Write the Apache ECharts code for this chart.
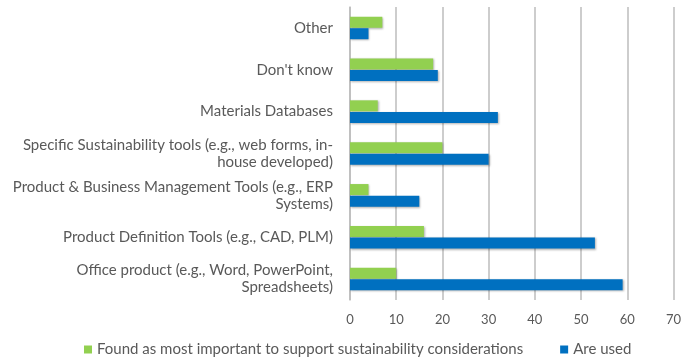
<!DOCTYPE html>
<html><head><meta charset="utf-8">
<script src="https://cdn.jsdelivr.net/npm/echarts@6/dist/echarts.min.js"></script>
<style>html,body{margin:0;padding:0;background:#fff}#c{width:684px;height:362px}</style>
</head><body><div id="c"></div>
<script>
const categories = [
  "Other",
  "Don't know",
  "Materials Databases",
  "Specific Sustainability tools (e.g., web forms, in-\nhouse developed)",
  "Product & Business Management Tools (e.g., ERP\nSystems)",
  "Product Definition Tools (e.g., CAD, PLM)",
  "Office product (e.g., Word, PowerPoint,\nSpreadsheets)"
];
const importantValues = [7, 18, 6, 20, 4, 16, 10];
const usedValues = [4, 19, 32, 30, 15, 53, 59];
const seriesNames = ["Found as most important to support sustainability considerations", "Are used"];
const xTicks = [0, 10, 20, 30, 40, 50, 60, 70];

const chart = echarts.init(document.getElementById('c'), null, {renderer: 'canvas'});
const font = 'Lato, "Open Sans", sans-serif';
chart.setOption({
  animation: false,
  textStyle: {fontFamily: font},
  grid: {left: 350, right: 5, top: 7, bottom: 62, containLabel: false},
  legend: {
    left: 84, top: 342, icon: 'rect', itemWidth: 8, itemHeight: 8, itemGap: 37, padding: 0,
    textStyle: {fontFamily: font, fontSize: 15, color: '#595959'},
    data: seriesNames
  },
  xAxis: {
    type: 'value', min: xTicks[0], max: xTicks[xTicks.length - 1], interval: 10,
    axisLine: {show: false}, axisTick: {show: false},
    axisLabel: {fontFamily: font, fontSize: 13, color: '#595959', margin: 13},
    splitLine: {show: true, lineStyle: {color: '#bdbdbd', width: 1.5}}
  },
  yAxis: {
    type: 'category', inverse: true, data: categories,
    axisLine: {show: true, lineStyle: {color: '#bdbdbd', width: 1.5}},
    axisTick: {show: false},
    axisLabel: {fontFamily: font, fontSize: 15, color: '#595959', margin: 17, lineHeight: 17, align: 'right'}
  },
  series: [
    {name: seriesNames[0], type: 'bar', data: importantValues, barGap: '5%', barCategoryGap: '46%',
     itemStyle: {color: '#92d050', shadowColor: 'rgba(0,0,0,0.3)', shadowBlur: 2, shadowOffsetX: 1, shadowOffsetY: 1}},
    {name: seriesNames[1], type: 'bar', data: usedValues, barGap: '5%', barCategoryGap: '46%',
     itemStyle: {color: '#0070c0', shadowColor: 'rgba(0,0,0,0.3)', shadowBlur: 2, shadowOffsetX: 1, shadowOffsetY: 1}}
  ]
});
</script></body></html>
